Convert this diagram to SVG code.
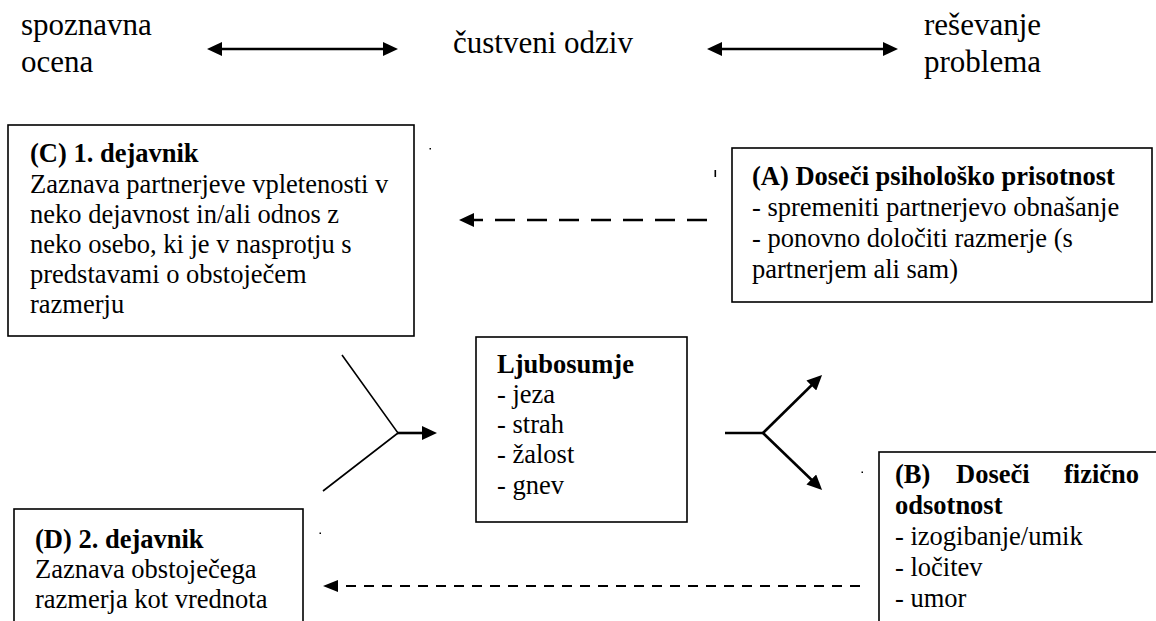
<svg xmlns="http://www.w3.org/2000/svg" width="1156" height="621" viewBox="0 0 1156 621">
  <style>
    .t { font-family: "Liberation Serif", "Times New Roman", serif; font-size: 26.5px; fill: #000; }
    .b { font-weight: bold; }
    .big { font-family: "Liberation Serif", "Times New Roman", serif; font-size: 31px; fill: #000; }
    .box { fill: #fff; stroke: #000; stroke-width: 1.6; }
    .thin { stroke: #000; stroke-width: 1.6; fill: none; }
    .thick { stroke: #000; stroke-width: 2.6; fill: none; }
    .dashA { stroke: #000; stroke-width: 2.6; fill: none; stroke-dasharray: 20 12; }
    .dashB { stroke: #000; stroke-width: 2.2; fill: none; stroke-dasharray: 10 8; }
    .mark { fill: #000; }
  </style>
  <defs>
    <marker id="ah" markerUnits="userSpaceOnUse" markerWidth="16" markerHeight="14" refX="5" refY="7" orient="auto-start-reverse">
      <path d="M0,0 L15,7 L0,14 z" fill="#000"/>
    </marker>
    <marker id="ahs" markerUnits="userSpaceOnUse" markerWidth="16" markerHeight="12" refX="5" refY="6" orient="auto">
      <path d="M0,0 L15,6 L0,12 z" fill="#000"/>
    </marker>
  </defs>

  <rect width="1156" height="621" fill="#fff"/>

  <!-- top row: three phases -->
  <g id="phase-cognitive">
    <text class="big" x="21" y="35">spoznavna</text>
    <text class="big" x="21" y="72">ocena</text>
  </g>
  <g id="phase-emotional">
    <text class="big" x="453" y="53">čustveni odziv</text>
  </g>
  <g id="phase-solving">
    <text class="big" x="924" y="35">reševanje</text>
    <text class="big" x="924" y="72">problema</text>
  </g>

  <!-- (C) first factor -->
  <g id="node-c">
    <rect class="box" x="8" y="125" width="406" height="211"/>
    <text class="t b" x="30" y="162">(C) 1. dejavnik</text>
    <text class="t" x="30" y="192.5">Zaznava partnerjeve vpletenosti v</text>
    <text class="t" x="30" y="223">neko dejavnost in/ali odnos z</text>
    <text class="t" x="30" y="253">neko osebo, ki je v nasprotju s</text>
    <text class="t" x="30" y="283">predstavami o obstoječem</text>
    <text class="t" x="30" y="313">razmerju</text>
  </g>

  <!-- (A) psychological presence -->
  <g id="node-a">
    <rect class="box" x="732" y="148" width="420" height="154"/>
    <text class="t b" x="752" y="185">(A) Doseči psihološko prisotnost</text>
    <text class="t" x="752" y="216">- spremeniti partnerjevo obnašanje</text>
    <text class="t" x="752" y="247">- ponovno določiti razmerje (s</text>
    <text class="t" x="752" y="278">partnerjem ali sam)</text>
  </g>

  <!-- jealousy -->
  <g id="node-jealousy">
    <rect class="box" x="476" y="337" width="211" height="185"/>
    <text class="t b" x="497" y="373">Ljubosumje</text>
    <text class="t" x="497" y="403">- jeza</text>
    <text class="t" x="497" y="433">- strah</text>
    <text class="t" x="497" y="463">- žalost</text>
    <text class="t" x="497" y="494">- gnev</text>
  </g>

  <!-- (B) physical absence -->
  <g id="node-b">
    <rect class="box" x="879" y="452" width="290" height="190"/>
    <text class="t b" y="483"><tspan x="895">(B)</tspan><tspan x="956">Doseči</tspan><tspan x="1064">fizično</tspan></text>
    <text class="t b" x="895" y="514">odsotnost</text>
    <text class="t" x="895" y="545">- izogibanje/umik</text>
    <text class="t" x="895" y="576">- ločitev</text>
    <text class="t" x="895" y="607">- umor</text>
  </g>

  <!-- (D) second factor -->
  <g id="node-d">
    <rect class="box" x="14" y="509" width="289" height="130"/>
    <text class="t b" x="35" y="548">(D) 2. dejavnik</text>
    <text class="t" x="35" y="578">Zaznava obstoječega</text>
    <text class="t" x="35" y="608">razmerja kot vrednota</text>
  </g>

  <!-- connectors -->
  <g id="connectors">
    <line class="thick" x1="217" y1="49" x2="388" y2="49" marker-start="url(#ah)" marker-end="url(#ah)"/>
    <line class="thick" x1="717" y1="49" x2="888" y2="49" marker-start="url(#ah)" marker-end="url(#ah)"/>

    <line class="dashA" x1="707" y1="220" x2="469" y2="220" marker-end="url(#ah)"/>
    <line class="dashB" x1="860" y1="586" x2="333" y2="586" marker-end="url(#ahs)"/>

    <!-- merging fork into jealousy -->
    <polyline class="thin" points="342,355 398,433 323,491"/>
    <line class="thick" x1="397" y1="433" x2="427" y2="433" marker-end="url(#ah)"/>

    <!-- splitting fork out of jealousy -->
    <line class="thick" x1="725" y1="433" x2="763" y2="433"/>
    <line class="thick" x1="763" y1="433" x2="814.9" y2="382" marker-end="url(#ah)"/>
    <line class="thick" x1="763" y1="433" x2="814.9" y2="483" marker-end="url(#ah)"/>

    <!-- small anchor marks -->
    <rect class="mark" x="714.5" y="170" width="1.6" height="7"/>
    <rect class="mark" x="429.5" y="148" width="1.5" height="1.5"/>
    <rect class="mark" x="861.5" y="471.5" width="1.5" height="1.5"/>
    <rect class="mark" x="319.5" y="532.5" width="1.5" height="1.5"/>
  </g>
</svg>
